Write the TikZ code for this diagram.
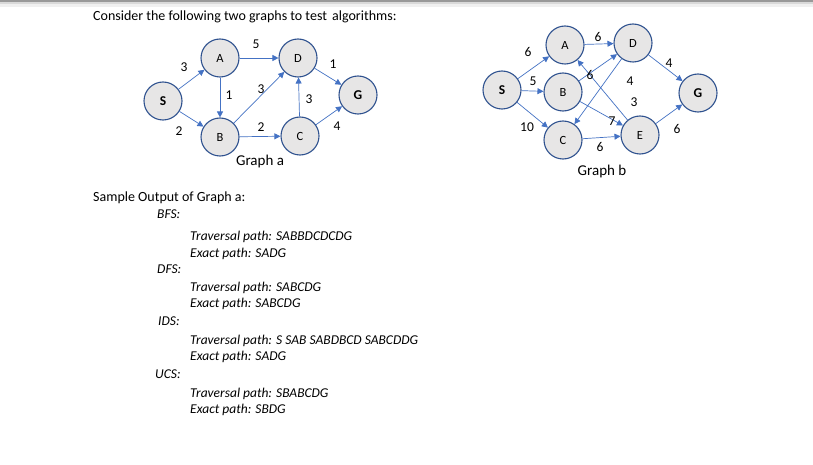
\documentclass[tikz,border=0pt]{standalone}
\usepackage{fontspec}
\setmainfont{Carlito}
\usepackage{tikz}
\usetikzlibrary{positioning,arrows.meta}
\definecolor{edgeblue}{HTML}{4472C4}
\definecolor{ringblue}{HTML}{2F528F}
\definecolor{nodegray}{HTML}{E7E6E6}

\tikzset{
  vert/.style={circle,draw=ringblue,line width=1.1pt,fill=nodegray,
    minimum size=38pt,inner sep=0pt,font=\fontsize{12.5}{14}\selectfont},
  endvert/.style={vert,font=\fontsize{13.5}{15}\selectfont\bfseries},
  link/.style={draw=edgeblue,line width=0.7pt,-{Triangle[width=6pt,length=6pt]}},
  wt/.style={font=\fontsize{13.5}{15}\selectfont,inner sep=0pt},
  txt/.style={anchor=base west,inner sep=0pt,font=\fontsize{14}{17}\selectfont},
  itxt/.style={txt,font=\fontsize{13.5}{17}\selectfont\itshape}
}

\begin{document}
\begin{tikzpicture}[x=1pt,y=-1pt]
  \useasboundingbox (0,0) rectangle (813,465);
  \fill[white] (0,0) rectangle (813,465);
  % top edge
  \fill[black!40] (0,0) rectangle (813,2);
  \fill[black!15] (0,2) rectangle (813,4);
  \fill[black!6] (0,4) rectangle (813,7);

  \node[txt] (title) at (93,21) {Consider the following two graphs to test \hspace{2pt}algorithms:};

  % graph a
  \node[endvert] (aS) at (163,101) {S};
  \node[vert] (aA) at (220,58) {A};
  \node[vert] (aD) at (298,58) {D};
  \node[vert] (aB) at (220,137) {B};
  \node[vert] (aC) at (300,136) {C};
  \node[endvert] (aG) at (358,95) {G};

  \draw[link] (aS) -- (aA);
  \draw[link] (aS) -- (aB);
  \draw[link] (aA) -- (aD);
  \draw[link] (aA) -- (aB);
  \draw[link] (aB) -- (aD);
  \draw[link] (aB) -- (aC);
  \draw[link] (aC) -- (aD);
  \draw[link] (aD) -- (aG);
  \draw[link] (aC) -- (aG);

  \node[wt] (wa1) at (184,67) {3};
  \node[wt] (wa2) at (256,44) {5};
  \node[wt] (wa3) at (333,64) {1};
  \node[wt] (wa4) at (229,95) {1};
  \node[wt] (wa5) at (261,89) {3};
  \node[wt] (wa6) at (309,99) {3};
  \node[wt] (wa7) at (179,131) {2};
  \node[wt] (wa8) at (261,127) {2};
  \node[wt] (wa9) at (337,126) {4};
  \node[wt,font=\fontsize{15}{17}\selectfont] (capa) at (260,162) {Graph a};

  % graph b
  \node[endvert] (bS) at (502,90) {S};
  \node[vert] (bA) at (565,45) {A};
  \node[vert] (bD) at (633,43) {D};
  \node[vert] (bB) at (563,92) {B};
  \node[vert] (bC) at (563,140) {C};
  \node[vert] (bE) at (640,135) {E};
  \node[endvert] (bG) at (698,93) {G};

  \draw[link] (bS) -- (bA);
  \draw[link] (bS) -- (bB);
  \draw[link] (bS) -- (bC);
  \draw[link] (bA) -- (bD);
  \draw[link] (bB) -- (bD);
  \draw[link] (bD) -- (bC);
  \draw[link] (bE) -- (bA);
  \draw[link] (bB) -- (bE);
  \draw[link] (bC) -- (bE);
  \draw[link] (bD) -- (bG);
  \draw[link] (bE) -- (bG);

  \node[wt] (wb1) at (528,52) {6};
  \node[wt] (wb2) at (533,81) {5};
  \node[wt] (wb3) at (527,127) {10};
  \node[wt] (wb4) at (598,37) {6};
  \node[wt] (wb5) at (590,75) {6};
  \node[wt] (wb6) at (630,81) {4};
  \node[wt] (wb7) at (634,102) {3};
  \node[wt] (wb8) at (612,121) {7};
  \node[wt] (wb9) at (600,147) {6};
  \node[wt] (wb10) at (669,63) {4};
  \node[wt] (wb11) at (677,129) {6};
  \node[wt,font=\fontsize{15}{17}\selectfont] (capb) at (602,172) {Graph b};

  % sample output
  \node[txt] (sample) at (93,201) {Sample Output of Graph a:};
  \node[itxt] (bfs) at (157,218) {BFS:};
  \node[itxt] (bfst) at (190,240) {Traversal path: SABBDCDCDG};
  \node[itxt] (bfse) at (190,257) {Exact path: SADG};
  \node[itxt] (dfs) at (157,273) {DFS:};
  \node[itxt] (dfst) at (190,291) {Traversal path: SABCDG};
  \node[itxt] (dfse) at (190,307) {Exact path: SABCDG};
  \node[itxt] (ids) at (158,325) {IDS:};
  \node[itxt] (idst) at (190,344) {Traversal path: S SAB SABDBCD SABCDDG};
  \node[itxt] (idse) at (190,360) {Exact path: SADG};
  \node[itxt] (ucs) at (155,378) {UCS:};
  \node[itxt] (ucst) at (190,397) {Traversal path: SBABCDG};
  \node[itxt] (ucse) at (190,413) {Exact path: SBDG};
\end{tikzpicture}
\end{document}
